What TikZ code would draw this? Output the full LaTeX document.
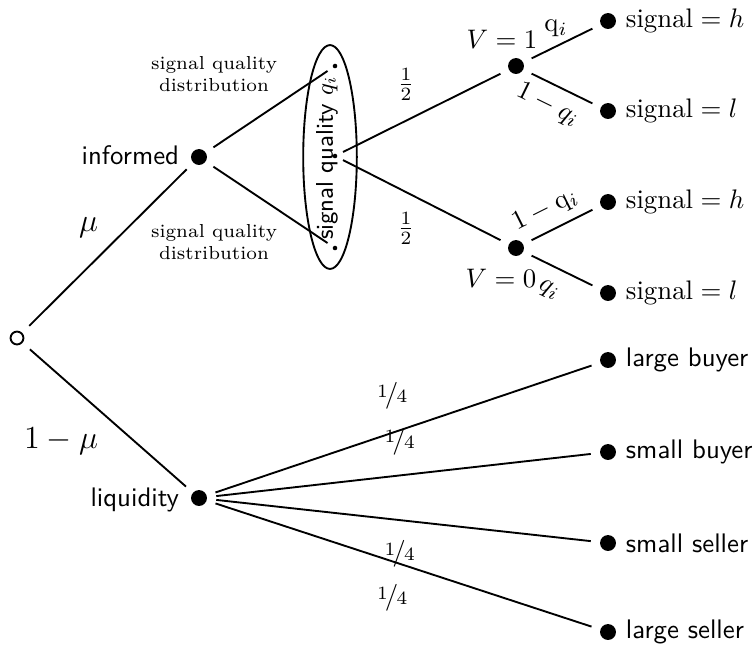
\documentclass[tikz,border=0pt]{standalone}
\usepackage{nicefrac}
\usetikzlibrary{shapes.geometric}
\tikzset{
  dot/.style={circle,fill,inner sep=2.1pt,outer sep=3.5pt},
  opendot/.style={circle,draw,inner sep=1.7pt,outer sep=4pt},
  smalldot/.style={circle,fill,inner sep=0.6pt,outer sep=2.5pt},
  leaf/.style={anchor=west,inner sep=0pt},
}
\begin{document}
\begin{tikzpicture}[x=0.373pt,y=-0.373pt,line width=0.7pt]
\useasboundingbox (0,0) rectangle (754,645);
% first move: trader type
\node[opendot] (root) at (17,338) {};
\node[dot] (inf) at (199,157) {};
\node[dot] (liq) at (199,498) {};
\node[anchor=east,inner sep=0pt] (infl) at (180,155) {\sffamily informed};
\node[anchor=east,inner sep=0pt] (liql) at (180,500) {\sffamily liquidity};
\draw (root) -- (inf) node[midway,above left] {\large$\mu$};
\draw (root) -- (liq) node[midway,below left] {\large$1-\mu$};
% signal quality
\node[draw,ellipse,minimum width=20pt,minimum height=83.5pt] (sq) at (330,157) {};
\node[rotate=90,font=\sffamily\small] (sqt) at (327,158) {signal quality $q_i$};
\node[smalldot] (q1) at (335,66) {};
\node[smalldot] (q2) at (335,156) {};
\node[smalldot] (q3) at (335,248) {};
\draw (inf) -- (q1);
\draw (inf) -- (q3);
\node[font=\scriptsize,align=center] (dist1) at (214,74) {signal quality\\distribution};
\node[font=\scriptsize,align=center] (dist2) at (214,242) {signal quality\\distribution};
% value of the asset
\node[dot] (v1) at (516,66) {};
\node[dot] (v0) at (516,248) {};
\node (v1l) at (502,39) {$V=1$};
\node (v0l) at (501,278) {$V=0$};
\draw (q2) -- (v1) node[pos=0.4,above=4pt] {$\frac{1}{2}$};
\draw (q2) -- (v0) node[pos=0.4,below=4pt] {$\frac{1}{2}$};
% signals
\node[dot] (h1) at (608,21) {};
\node[dot] (l1) at (608,111) {};
\node[dot] (h0) at (608,202) {};
\node[dot] (l0) at (608,293) {};
\node[leaf] (h1l) at (625,21) {signal${}=h$};
\node[leaf] (l1l) at (625,111) {signal${}=l$};
\node[leaf] (h0l) at (625,202) {signal${}=h$};
\node[leaf] (l0l) at (625,293) {signal${}=l$};
\draw (v1) -- (h1) node[pos=0.4,above] {$\mathrm{q}_i$};
\draw (v1) -- (l1) node[pos=0.42,below,sloped] {$1-q_i$};
\draw (v0) -- (h0) node[pos=0.38,above,sloped] {$1-\mathrm{q}_i$};
\draw (v0) -- (l0) node[pos=0.45,below=2pt,sloped] {$q_i$};
% liquidity traders
\node[dot] (lb) at (608,360) {};
\node[dot] (sb) at (608,452) {};
\node[dot] (ss) at (608,543) {};
\node[dot] (ls) at (608,632) {};
\node[leaf] (lbl) at (625,360) {\sffamily large buyer};
\node[leaf] (sbl) at (625,452) {\sffamily small buyer};
\node[leaf] (ssl) at (625,543) {\sffamily small seller};
\node[leaf] (lsl) at (625,632) {\sffamily large seller};
\draw (liq) -- (lb) node[pos=0.47,above=5pt] {\nicefrac{1}{4}};
\draw (liq) -- (sb) node[pos=0.49,above=4pt] {\nicefrac{1}{4}};
\draw (liq) -- (ss) node[pos=0.49,below=4pt] {\nicefrac{1}{4}};
\draw (liq) -- (ls) node[pos=0.47,below=5pt] {\nicefrac{1}{4}};
\end{tikzpicture}
\end{document}
